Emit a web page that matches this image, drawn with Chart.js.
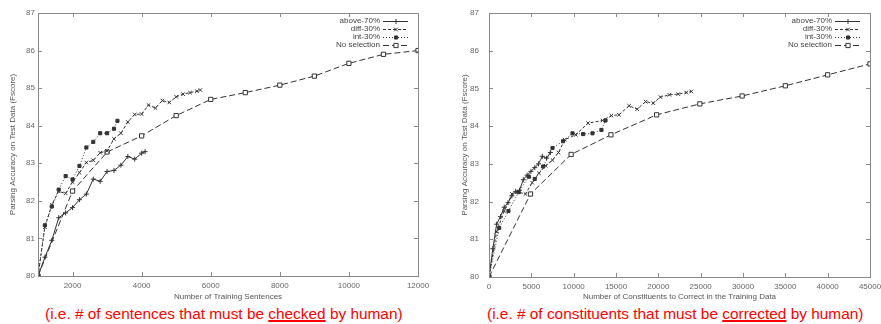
<!DOCTYPE html>
<html lang="en">
<head>
<meta charset="UTF-8">
<title>Parsing accuracy vs. annotation effort</title>
<script src="https://cdn.jsdelivr.net/npm/chart.js"></script>
<style>
  body { margin: 0; background: #fff; width: 881px; height: 324px; position: relative; overflow: hidden; }
  canvas { position: absolute; top: 0; }
  .caption { position: absolute; top: 305px; white-space: nowrap; color: #f00;
             font-family: "Liberation Sans", Arial, sans-serif; font-size: 15.4px; }
  .caption u { text-decoration-thickness: 1.5px; }
</style>
</head>
<body>
<canvas id="leftChart" width="440" height="305" style="left:0"></canvas>
<canvas id="rightChart" width="441" height="305" style="left:440px"></canvas>
<div class="caption" style="left:45px">(i.e. # of sentences that must be <u>checked</u> by human)</div>
<div class="caption" style="left:487px">(i.e. # of constituents that must be <u>corrected</u> by human)</div>

<script>
// series names
const seriesNames = ['above-70%', 'diff-30%', 'int-30%', 'No selection'];

// y axis (Fscore), shared
const yTicks = [80, 81, 82, 83, 84, 85, 86, 87];

// left chart: number of training sentences
const sentTicks = [2000, 4000, 6000, 8000, 10000, 12000];
const sentAboveX = [1000, 1200, 1400, 1600, 1800, 2000, 2200, 2400, 2600, 2800, 3000, 3200, 3400, 3600, 3800, 4000, 4100];
const sentAboveY = [80.0, 80.5, 80.95, 81.55, 81.68, 81.82, 82.03, 82.18, 82.58, 82.52, 82.78, 82.81, 82.95, 83.18, 83.11, 83.27, 83.31];
const sentDiffX = [1000, 1200, 1400, 1600, 1800, 2000, 2200, 2400, 2600, 2800, 3000, 3200, 3400, 3600, 3800, 4000, 4200, 4400, 4600, 4800, 5000, 5200, 5400, 5600, 5700];
const sentDiffY = [80.0, 81.3, 81.9, 82.25, 82.2, 82.5, 82.75, 83.02, 83.08, 83.28, 83.33, 83.65, 83.8, 84.1, 84.3, 84.31, 84.55, 84.47, 84.67, 84.62, 84.77, 84.84, 84.88, 84.92, 84.95];
const sentIntX = [1000, 1200, 1400, 1600, 1800, 2000, 2200, 2400, 2600, 2800, 3000, 3200, 3300];
const sentIntY = [80.0, 81.35, 81.85, 82.3, 82.66, 82.57, 82.93, 83.42, 83.57, 83.8, 83.8, 83.92, 84.13];
const sentNoneX = [1000, 2000, 3000, 4000, 5000, 6000, 7000, 8000, 9000, 10000, 11000, 12000];
const sentNoneY = [80.0, 82.26, 83.3, 83.73, 84.27, 84.7, 84.88, 85.08, 85.32, 85.66, 85.9, 86.0];

// right chart: number of constituents to correct
const consTicks = [0, 5000, 10000, 15000, 20000, 25000, 30000, 35000, 40000, 45000];
const consAboveX = [0, 450, 900, 1350, 1800, 2250, 2700, 3150, 3600, 4050, 4500, 4950, 5400, 5850, 6300, 6800, 7250];
const consAboveY = [80.0, 80.75, 81.4, 81.6, 81.85, 81.97, 82.15, 82.27, 82.3, 82.58, 82.7, 82.8, 82.9, 83.0, 83.2, 83.15, 83.3];
const consDiffX = [0, 900, 1800, 2700, 3500, 4300, 5100, 5900, 6700, 7500, 8200, 8950, 10250, 11700, 13400, 14450, 15350, 16550, 17500, 18500, 19400, 20250, 21300, 22350, 23300, 23900];
const consDiffY = [80.0, 81.2, 81.75, 82.2, 82.25, 82.2, 82.5, 82.75, 82.95, 83.1, 83.3, 83.64, 83.77, 84.08, 84.15, 84.28, 84.3, 84.54, 84.45, 84.65, 84.61, 84.77, 84.83, 84.85, 84.89, 84.92];
const consIntX = [0, 1200, 2300, 3500, 4700, 5400, 6400, 7500, 8750, 9860, 11120, 12220, 13280, 13760];
const consIntY = [80.0, 81.3, 81.75, 82.25, 82.66, 82.6, 82.93, 83.42, 83.6, 83.81, 83.79, 83.81, 83.9, 84.15];
const consNoneX = [0, 4900, 9700, 14400, 19800, 24900, 29900, 35000, 40000, 45000];
const consNoneY = [80.0, 82.2, 83.25, 83.77, 84.3, 84.59, 84.8, 85.07, 85.36, 85.65];

const lineColor = '#333';
const axisColor = '#8a8a8a';
const textColor = '#666';
const fontFamily = '"Liberation Sans", Arial, sans-serif';

// one style per series, same order as seriesNames
const seriesStyles = [
  { pointStyle: 'cross',    dash: [],     radius: 2.5, fill: lineColor },
  { pointStyle: 'crossRot', dash: [3, 2], radius: 2.5, fill: lineColor },
  { pointStyle: 'rect',     dash: [1, 2], radius: 2.2, fill: lineColor },
  { pointStyle: 'rect',     dash: [6, 3], radius: 3,   fill: '#fff' }
];

function pairs(xs, ys) {
  return xs.map((x, i) => ({ x: x, y: ys[i] }));
}

function buildDatasets(seriesData) {
  return seriesData.map((pts, i) => {
    const st = seriesStyles[i];
    return {
      label: seriesNames[i],
      data: pts,
      borderColor: lineColor,
      borderWidth: 1,
      borderDash: st.dash,
      pointStyle: st.pointStyle,
      pointRadius: st.radius,
      pointBorderWidth: 1,
      pointBorderColor: lineColor,
      pointBackgroundColor: st.fill,
      tension: 0,
      fill: false
    };
  });
}

// box around the plot, inward tick marks, and the legend in the top right
const framePlugin = {
  id: 'frame',
  afterDatasetsDraw(chart) {
    const ctx = chart.ctx;
    const a = chart.chartArea;
    const xs = chart.scales.x, ys = chart.scales.y;
    ctx.save();
    ctx.strokeStyle = axisColor;
    ctx.lineWidth = 1;
    ctx.setLineDash([]);
    ctx.strokeRect(a.left + 0.5, a.top + 0.5, a.right - a.left, a.bottom - a.top);
    ctx.beginPath();
    xs.ticks.forEach(t => {
      const px = Math.round(xs.getPixelForValue(t.value)) + 0.5;
      ctx.moveTo(px, a.bottom); ctx.lineTo(px, a.bottom - 4);
      ctx.moveTo(px, a.top); ctx.lineTo(px, a.top + 4);
    });
    ys.ticks.forEach(t => {
      const py = Math.round(ys.getPixelForValue(t.value)) + 0.5;
      ctx.moveTo(a.left, py); ctx.lineTo(a.left + 4, py);
      ctx.moveTo(a.right, py); ctx.lineTo(a.right - 4, py);
    });
    ctx.stroke();

    // legend
    ctx.font = '8px ' + fontFamily;
    ctx.fillStyle = '#444';
    ctx.textAlign = 'right';
    ctx.textBaseline = 'middle';
    chart.data.datasets.forEach((ds, i) => {
      const y = a.top + 8 + i * 8;
      ctx.fillText(ds.label, a.right - 38, y);
      ctx.strokeStyle = lineColor;
      ctx.setLineDash(ds.borderDash);
      ctx.beginPath();
      ctx.moveTo(a.right - 35, y + 0.5);
      ctx.lineTo(a.right - 10, y + 0.5);
      ctx.stroke();
      ctx.setLineDash([]);
      ctx.fillStyle = ds.pointBackgroundColor;
      Chart.helpers.drawPoint(ctx, {
        pointStyle: ds.pointStyle, radius: ds.pointRadius, borderWidth: 1, rotation: 0
      }, a.right - 22, y + 0.5);
      ctx.fillStyle = '#444';
    });
    ctx.restore();
  }
};

function makeChart(id, seriesData, xMin, xMax, xTicks, xTitle, yWidth, yPad, yTitlePad, rightPad, xHeight) {
  return new Chart(document.getElementById(id), {
    type: 'line',
    data: { datasets: buildDatasets(seriesData) },
    plugins: [framePlugin],
    options: {
      responsive: false,
      animation: false,
      devicePixelRatio: 1,
      layout: { padding: { top: 13, right: rightPad, left: 0, bottom: 0 } },
      plugins: { legend: { display: false }, tooltip: { enabled: false } },
      scales: {
        x: {
          type: 'linear',
          min: xMin,
          max: xMax,
          afterBuildTicks: s => { s.ticks = xTicks.map(v => ({ value: v })); },
          afterFit: s => { s.height = xHeight; s.paddingLeft = 0; s.paddingRight = 0; },
          grid: { display: false, drawTicks: false },
          border: { display: false },
          ticks: {
            callback: v => String(v),
            autoSkip: false, maxRotation: 0, padding: 5,
            color: textColor, font: { size: 8, family: fontFamily }
          },
          title: {
            display: true, text: xTitle, color: '#555',
            font: { size: 8, family: fontFamily }, padding: { top: 0, bottom: 3 }
          }
        },
        y: {
          type: 'linear',
          min: 80,
          max: 87,
          afterBuildTicks: s => { s.ticks = yTicks.map(v => ({ value: v })); },
          afterFit: s => { s.width = yWidth; s.paddingTop = 0; s.paddingBottom = 0; },
          grid: { display: false, drawTicks: false },
          border: { display: false },
          ticks: {
            callback: v => String(v),
            padding: yPad,
            color: textColor, font: { size: 8, family: fontFamily }
          },
          title: {
            display: true, text: 'Parsing Accuracy on Test Data (Fscore)', color: '#555',
            font: { size: 8, family: fontFamily }, padding: { top: yTitlePad, bottom: 0 }
          }
        }
      }
    }
  });
}

makeChart('leftChart',
  [pairs(sentAboveX, sentAboveY), pairs(sentDiffX, sentDiffY), pairs(sentIntX, sentIntY), pairs(sentNoneX, sentNoneY)],
  1000, 12000, sentTicks, 'Number of Training Sentences', 38, 3, 8, 22, 29);

makeChart('rightChart',
  [pairs(consAboveX, consAboveY), pairs(consDiffX, consDiffY), pairs(consIntX, consIntY), pairs(consNoneX, consNoneY)],
  0, 45000, consTicks, 'Number of Constituents to Correct in the Training Data', 49, 10, 20, 11, 28);
</script>
</body>
</html>
